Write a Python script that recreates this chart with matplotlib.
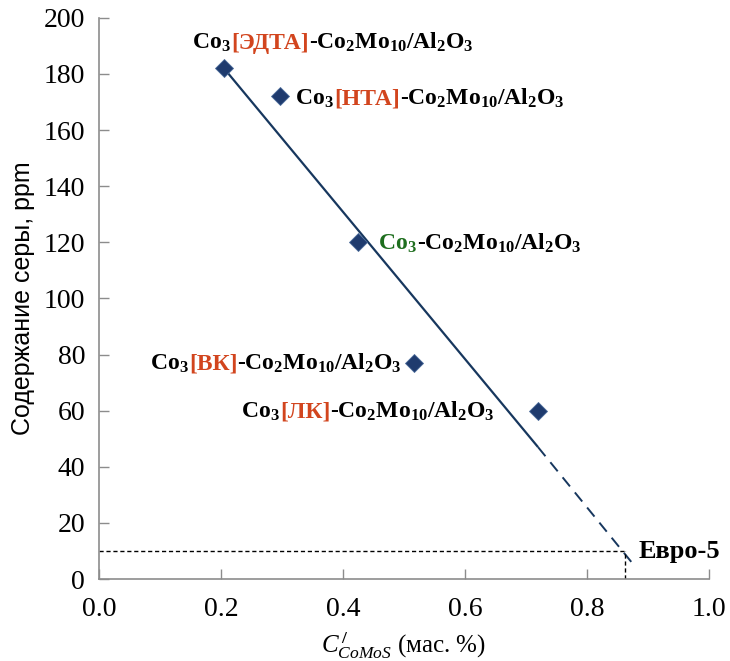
import matplotlib
matplotlib.use("Agg")
import matplotlib.pyplot as plt
from matplotlib import transforms

plt.rcParams['font.family'] = ['Liberation Serif', 'DejaVu Serif']
plt.rcParams['mathtext.fontset'] = 'custom'
plt.rcParams['mathtext.rm'] = 'Liberation Serif:bold'
plt.rcParams['mathtext.bf'] = 'Liberation Serif:bold'
plt.rcParams['mathtext.it'] = 'Liberation Serif:italic'

# ---- data ----
x_vals = [0.205, 0.297, 0.425, 0.517, 0.72]
y_vals = [182, 172, 120, 77, 60]
trend_solid_x = [0.205, 0.72]
trend_solid_y = [182, 47]
trend_dash_x = [0.72, 0.877]
trend_dash_y = [47, 5]
euro5_x = 0.863
euro5_y = 10
x_ticks = [0.0, 0.2, 0.4, 0.6, 0.8, 1.0]
x_ticklabels = ['0.0', '0.2', '0.4', '0.6', '0.8', '1.0']
y_ticks = [0, 20, 40, 60, 80, 100, 120, 140, 160, 180, 200]

RED = '#D2451E'
GREEN = '#1E6E1E'
K = 'black'
label_parts = [
    [('Co$_3$', K), ('[ЭДТА]', RED), ('-Co$_2$Mo$_{10}$/Al$_2$O$_3$', K)],
    [('Co$_3$', K), ('[НТА]', RED), ('-Co$_2$Mo$_{10}$/Al$_2$O$_3$', K)],
    [('Co$_3$', GREEN), ('-Co$_2$Mo$_{10}$/Al$_2$O$_3$', K)],
    [('Co$_3$', K), ('[ВК]', RED), ('-Co$_2$Mo$_{10}$/Al$_2$O$_3$', K)],
    [('Co$_3$', K), ('[ЛК]', RED), ('-Co$_2$Mo$_{10}$/Al$_2$O$_3$', K)],
]
label_pos = [(0.153, 189, 'left'), (0.322, 169, 'left'), (0.458, 117.5, 'left'),
             (0.497, 74.5, 'right'), (0.649, 57.5, 'right')]

fig = plt.figure(figsize=(7.30, 6.61), dpi=100)
ax = fig.add_axes([0.1356, 0.124, 0.8354, 0.849])

navy = '#1F3B6E'
ax.plot(trend_solid_x, trend_solid_y, color='#17375E', lw=1.6, solid_capstyle='butt')
ax.plot(trend_dash_x, trend_dash_y, color='#17375E', lw=1.4, ls=(0, (6, 4)))
ax.plot([0, euro5_x], [euro5_y, euro5_y], color='black', lw=1.0, ls=(0, (3, 2)))
ax.plot([euro5_x, euro5_x], [0, euro5_y], color='black', lw=1.0, ls=(0, (3, 2)))
ax.plot(x_vals, y_vals, ls='none', marker='D', ms=9, color=navy,
        markeredgecolor='#4A6A9A', markeredgewidth=0.6, zorder=5)

ax.set_xlim(0, 1.0)
ax.set_ylim(0, 200)
ax.set_xticks(x_ticks)
ax.set_xticklabels(x_ticklabels)
ax.set_yticks(y_ticks)
for s in ['top', 'right']:
    ax.spines[s].set_visible(False)
for s in ['left', 'bottom']:
    ax.spines[s].set_color('#8C8C8C')
    ax.spines[s].set_linewidth(1.2)
ax.tick_params(direction='in', length=7, width=1, color='#8C8C8C',
               labelsize=20, pad=10)
ax.tick_params(axis='x', pad=13)

ax.set_ylabel('Содержание серы, ppm', fontfamily='Liberation Sans', fontsize=18, labelpad=6)
ax.set_xlabel(r'$C^{\,/}_{CoMoS}$ (мас. %)', fontsize=18, labelpad=6)

fig.canvas.draw()
r = fig.canvas.get_renderer()
tkw = dict(fontweight='bold', fontsize=17)


def rich(x, y, parts, ha):
    widths = []
    for s, c in parts:
        t = ax.text(0, 0, s, **tkw)
        widths.append(t.get_window_extent(r).width)
        t.remove()
    total = sum(widths)
    off = 0 if ha == 'left' else -total
    for (s, c), w in zip(parts, widths):
        tr = transforms.offset_copy(ax.transData, fig=fig, x=off * 72 / fig.dpi, units='points')
        ax.text(x, y, s, color=c, transform=tr, ha='left', va='baseline', **tkw)
        off += w


for parts, (x, y, ha) in zip(label_parts, label_pos):
    rich(x, y, parts, ha)

ax.text(0.885, 7.5, 'Евро-5', fontweight='bold', fontsize=19,
        va='baseline', ha='left', clip_on=False)

fig.savefig('out.png', dpi=100)
